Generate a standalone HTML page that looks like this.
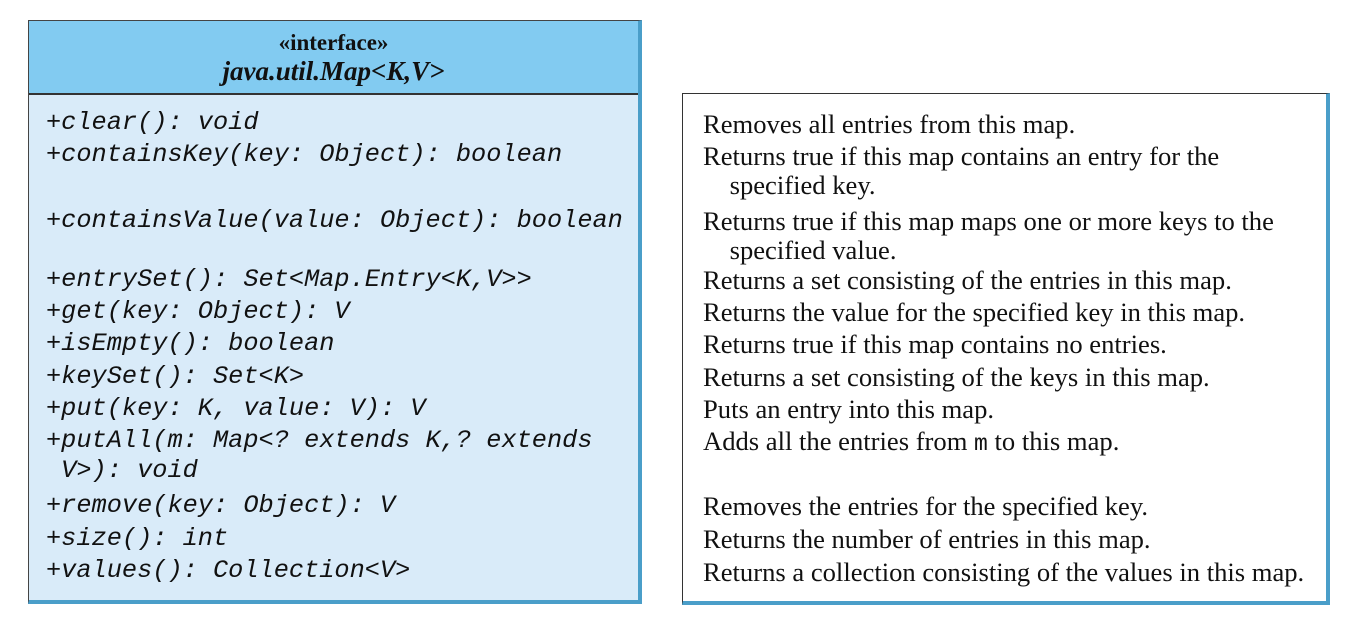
<!DOCTYPE html>
<html><head><style>
body{margin:0;width:1346px;height:622px;background:#fff;position:relative;overflow:hidden}
.box{position:absolute;left:28px;top:20px;width:614px;height:584px;background:#d9ebf9;border:1px solid #444;border-right:4px solid #4a9ec9;border-bottom:4px solid #4a9ec9;box-sizing:border-box}
.hdr{position:absolute;left:0;top:0;width:100%;height:72px;background:#82cbf1;border-bottom:2px solid #333;text-align:center;font-family:"Liberation Serif",serif;font-weight:bold;color:#111}
.rb{position:absolute;left:682px;top:93px;width:648px;height:512px;background:#fff;border:1px solid #333;border-right:4px solid #4a9ec9;border-bottom:4px solid #4a9ec9;box-sizing:border-box}
.m{position:absolute;left:46px;font-family:"Liberation Mono",monospace;font-style:italic;font-size:25.3px;color:#111;line-height:30px;white-space:pre}
.s{position:absolute;left:703px;font-family:"Liberation Serif",serif;font-size:26.6px;color:#111;line-height:30px;white-space:pre}
</style></head><body>
<div class="box"><div class="hdr"><div style="font-size:23px;margin-top:9px">«interface»</div><div style="font-size:27px;font-style:italic;margin-top:0px">java.util.Map&lt;K,V&gt;</div></div></div>
<div class="rb"></div>
<div class="m" style="top:108px">+clear(): void</div>
<div class="m" style="top:140px">+containsKey(key: Object): boolean</div>
<div class="m" style="top:206px">+containsValue(value: Object): boolean</div>
<div class="m" style="top:265px">+entrySet(): Set&lt;Map.Entry&lt;K,V&gt;&gt;</div>
<div class="m" style="top:297px">+get(key: Object): V</div>
<div class="m" style="top:329px">+isEmpty(): boolean</div>
<div class="m" style="top:362px">+keySet(): Set&lt;K&gt;</div>
<div class="m" style="top:394px">+put(key: K, value: V): V</div>
<div class="m" style="top:426px">+putAll(m: Map&lt;? extends K,? extends</div>
<div class="m" style="top:456px"> V&gt;): void</div>
<div class="m" style="top:491px">+remove(key: Object): V</div>
<div class="m" style="top:524px">+size(): int</div>
<div class="m" style="top:556px">+values(): Collection&lt;V&gt;</div>
<div class="s" style="top:109px">Removes all entries from this map.</div>
<div class="s" style="top:141px">Returns true if this map contains an entry for the</div>
<div class="s" style="top:170px">    specified key.</div>
<div class="s" style="top:206px">Returns true if this map maps one or more keys to the</div>
<div class="s" style="top:235px">    specified value.</div>
<div class="s" style="top:265px">Returns a set consisting of the entries in this map.</div>
<div class="s" style="top:297px">Returns the value for the specified key in this map.</div>
<div class="s" style="top:329px">Returns true if this map contains no entries.</div>
<div class="s" style="top:362px">Returns a set consisting of the keys in this map.</div>
<div class="s" style="top:394px">Puts an entry into this map.</div>
<div class="s" style="top:426px">Adds all the entries from <span style="font-family:'Liberation Mono',monospace;font-size:23px">m</span> to this map.</div>
<div class="s" style="top:491px">Removes the entries for the specified key.</div>
<div class="s" style="top:524px">Returns the number of entries in this map.</div>
<div class="s" style="top:557px">Returns a collection consisting of the values in this map.</div>
</body></html>
